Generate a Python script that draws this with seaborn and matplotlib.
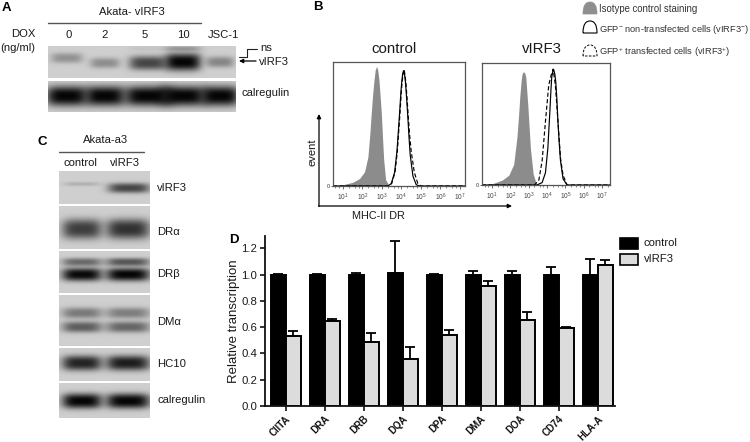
import numpy as np
import pandas as pd
import matplotlib
matplotlib.use("Agg")
import matplotlib.pyplot as plt
from matplotlib.patches import PathPatch, Rectangle
from matplotlib.path import Path
import seaborn as sns

# ---------- Panel D data ----------
genes = ["CIITA", "DRA", "DRB", "DQA", "DPA", "DMA", "DOA", "CD74", "HLA-A"]
control_mean = [1.0, 1.0, 1.0, 1.015, 1.0, 1.0, 1.0, 1.0, 1.0]
control_top = [1.003, 1.002, 1.015, 1.255, 1.005, 1.03, 1.03, 1.06, 1.12]
virf3_mean = [0.535, 0.645, 0.49, 0.355, 0.54, 0.915, 0.655, 0.59, 1.075]
virf3_top = [0.57, 0.665, 0.555, 0.45, 0.58, 0.955, 0.715, 0.605, 1.115]
y_ticks = [0.0, 0.2, 0.4, 0.6, 0.8, 1.0, 1.2]

# ---------- Panel B data (log10 intensity, event fraction) ----------
c_iso_x = [0.49, 1.0, 1.51, 1.85, 2.11, 2.28, 2.38, 2.45, 2.52, 2.59, 2.66, 2.73, 2.79, 2.85, 2.91, 2.97, 3.03, 3.09, 3.19, 3.36, 7.26]
c_iso_y = [0, .01, .03, .06, .115, .235, .42, .585, .73, .85, .94, .965, .93, .85, .72, .585, .39, .21, .05, .005, 0]
c_neg_x = [0.49, 3.31, 3.48, 3.65, 3.77, 3.85, 3.91, 3.97, 4.01, 4.06, 4.11, 4.16, 4.21, 4.27, 4.33, 4.39, 4.45, 4.59, 4.76, 4.93, 7.26]
c_neg_y = [0, 0, .02, .11, .28, .46, .6, .75, .83, .9, .93, .9, .83, .7, .55, .39, .25, .08, .01, 0, 0]
c_pos_x = [0.49, 3.33, 3.5, 3.67, 3.79, 3.87, 3.93, 3.99, 4.03, 4.08, 4.13, 4.18, 4.23, 4.29, 4.35, 4.42, 4.5, 4.66, 4.84, 5.0, 7.26]
c_pos_y = [0, 0, .02, .11, .28, .46, .6, .75, .83, .9, .94, .9, .83, .7, .56, .41, .28, .11, .02, 0, 0]

v_iso_x = [0.45, 1.0, 1.55, 1.91, 2.18, 2.36, 2.44, 2.51, 2.57, 2.62, 2.68, 2.73, 2.79, 2.84, 2.95, 3.09, 3.24, 3.42, 7.43]
v_iso_y = [0, .01, .04, .08, .17, .4, .56, .72, .83, .9, .925, .927, .915, .88, .65, .3, .09, .005, 0]
v_neg_x = [0.45, 3.45, 3.73, 3.91, 4.04, 4.15, 4.21, 4.25, 4.31, 4.36, 4.42, 4.47, 4.53, 4.58, 4.65, 4.73, 4.87, 5.09, 7.43]
v_neg_y = [0, 0, .02, .1, .3, .6, .78, .88, .93, .945, .91, .85, .71, .55, .37, .2, .05, 0, 0]
v_pos_x = [0.45, 3.31, 3.55, 3.73, 3.91, 4.09, 4.22, 4.33, 4.45, 4.58, 4.73, 4.87, 5.09, 7.43]
v_pos_y = [0, 0, .04, .2, .52, .82, .9, .95, .82, .55, .22, .08, 0, 0]
log_ticks = [1, 2, 3, 4, 5, 6, 7]

# ---------- Blot band intensities ----------
a_virf3 = [0.3, 0.32, 0.68, 1.0, 0.36]
a_ns = [0.0, 0.0, 0.05, 0.25, 0.0]
a_calreg = [1.0, 1.0, 1.0, 1.0, 1.0]
c_virf3 = [0.15, 0.68]
c_dra = [0.72, 0.78]
c_drb_up = [0.5, 0.6]
c_drb_lo = [0.98, 1.0]
c_dma_up = [0.42, 0.4]
c_dma_lo = [0.56, 0.52]
c_hc10 = [0.85, 0.88]
c_calreg = [1.0, 1.0]

W, H = 750, 442
sns.set_theme(style="ticks")
plt.rcParams["font.family"] = ["Liberation Sans", "DejaVu Sans"]
plt.rcParams["mathtext.default"] = "regular"

fig = plt.figure(figsize=(W / 100, H / 100), dpi=100, facecolor="white")
ov = fig.add_axes([0, 0, 1, 1], zorder=0)


def blot(x0, y0, x1, y1, bands, bg=0.79):
    xs = np.arange(x0, x1, 0.5) + 0.25
    ys = np.arange(y0, y1, 0.5) + 0.25
    X, Y = np.meshgrid(xs, ys)
    clear = np.ones_like(X)
    for cx, cy, hw, hh, val in bands:
        clear *= 1 - min(val, 1) * np.exp(-np.abs((X - cx) / hw) ** 4 - np.abs((Y - cy) / hh) ** 2.6)
    img = bg * clear + 0.02
    ov.imshow(img, extent=(x0, x1, y1, y0), cmap="gray", vmin=0, vmax=1,
              aspect="auto", interpolation="bilinear", zorder=1)


# Panel A blots
a_lanes = [67, 105, 148, 183, 220]
a_hw = [16, 15, 19, 18, 14]
a_cy = [58, 63, 63, 62, 62]
blot(48, 46, 236, 78, [(x, y, w, 3.6 + 5 * v, v) for x, y, w, v in zip(a_lanes, a_cy, a_hw, a_virf3)]
     + [(x, 48.5, w, 2.5, v) for x, w, v in zip(a_lanes, a_hw, a_ns)])
blot(48, 81, 236, 112, [(x, 96, w + 5, 10, v) for x, w, v in zip(a_lanes, a_hw, a_calreg)])

# Panel C blots
c_lanes = [82, 128]
c_hw = [20, 22]
def lanes(cy, vals, hh):
    return [(x, cy, w, hh, v) for x, w, v in zip(c_lanes, c_hw, vals)]
blot(59, 171, 150, 204, [(82, 184, 18, 2, c_virf3[0]), (129, 188, 21, 5, c_virf3[1])])
blot(59, 206, 150, 249, lanes(229, c_dra, 10))
blot(59, 251, 150, 293, lanes(262, c_drb_up, 4) + lanes(274.5, c_drb_lo, 6.5))
blot(59, 295, 150, 346, lanes(313, c_dma_up, 5.5) + lanes(327, c_dma_lo, 5.5))
blot(59, 348, 150, 381, lanes(363, c_hc10, 7.5))
blot(59, 383, 150, 418, lanes(401, c_calreg, 7.5))


def t(x, y, s, size=8.1, ha="left", va="center", **kw):
    ov.text(x, y, s, fontsize=size, ha=ha, va=va, color=kw.pop("color", "#1a1a1a"), zorder=5, **kw)


for x, y, s in [(2, 8, "A"), (313, 7, "B"), (37, 142, "C"), (229, 240, "D")]:
    t(x, y, s, size=9.5, fontweight="bold", color="black")

# Panel A text
t(132, 12, "Akata- vIRF3", ha="center")
ov.plot([48, 201], [22.5, 22.5], color="#555555", lw=1)
t(23, 34, "DOX", ha="center")
t(18, 48, "(ng/ml)", ha="center")
for x, s in zip([69, 105, 145, 183, 223], ["0", "2", "5", "10", "JSC-1"]):
    t(x, 35, s, ha="center")
t(260, 48, "ns")
t(259, 62, "vIRF3")
t(242, 93, "calregulin")
ov.plot([239, 247, 247, 257], [57, 57, 49, 49], color="#222222", lw=0.8)
ov.annotate("", xy=(239, 61), xytext=(256, 61),
            arrowprops=dict(arrowstyle="-|>", color="black", lw=0.9, mutation_scale=6, shrinkA=0, shrinkB=0))

# Panel C text
t(106, 140, "Akata-a3", ha="center")
ov.plot([59, 144], [152, 152], color="#555555", lw=1)
t(80, 163, "control", ha="center")
t(125, 163, "vIRF3", ha="center")
for y, s in zip([188, 232, 274, 322, 364, 400],
                ["vIRF3", "DR\u03b1", "DR\u03b2", "DM\u03b1", "HC10", "calregulin"]):
    t(157, y, s)

# Panel B text and legend
t(394, 49, "control", size=10.8, ha="center")
t(542, 49, "vIRF3", size=10.8, ha="center")
t(312, 152, "event", size=8, ha="center", rotation=90)
t(378, 216, "MHC-II DR", size=7.8, ha="center")
ov.annotate("", xy=(319, 114), xytext=(319, 206.5),
            arrowprops=dict(arrowstyle="-|>", color="black", lw=0.9, mutation_scale=6, shrinkA=0, shrinkB=0))
ov.annotate("", xy=(512, 206), xytext=(318.5, 206),
            arrowprops=dict(arrowstyle="-|>", color="black", lw=0.9, mutation_scale=6, shrinkA=0, shrinkB=0))


def dome(x0, x1, ytop, ybot, **kw):
    mid = (x0 + x1) / 2
    verts = [(x0, ybot), (x0, ytop + 3), (mid - 4, ytop), (mid, ytop), (mid + 4, ytop), (x1, ytop + 3), (x1, ybot), (x0, ybot)]
    codes = [Path.MOVETO, Path.CURVE4, Path.CURVE4, Path.CURVE4, Path.CURVE4, Path.CURVE4, Path.CURVE4, Path.LINETO]
    ov.add_patch(PathPatch(Path(verts, codes), zorder=5, **kw))


dome(583, 597, 2, 14, facecolor="#8e8e8e", edgecolor="#8e8e8e", lw=0.5)
dome(583, 597, 21, 33, facecolor="white", edgecolor="black", lw=0.8)
dome(583, 597, 45, 56, facecolor="white", edgecolor="black", lw=0.7, ls=(0, (2.5, 1.5)))
t(599, 9, "Isotype control staining", size=6.9, color="#333333")
t(599, 29, "GFP$^{-}$ non-transfected cells (vIRF3$^{-}$)", size=6.65, color="#333333")
t(599, 52, "GFP$^{+}$ transfected cells (vIRF3$^{+}$)", size=6.65, color="#333333")

# Panel D legend
ov.add_patch(Rectangle((620, 238), 18, 10.5, fc="black", ec="black", lw=1.2, zorder=5))
ov.add_patch(Rectangle((620, 254), 18, 10.5, fc="#dcdcdc", ec="black", lw=1.2, zorder=5))
t(644, 243, "control", size=8.1)
t(644, 259, "vIRF3", size=8.1)

ov.set_xlim(0, W)
ov.set_ylim(H, 0)
ov.axis("off")


def px_axes(x0, y0, x1, y1):
    return fig.add_axes([x0 / W, 1 - y1 / H, (x1 - x0) / W, (y1 - y0) / H], zorder=2)


def flow(pos, xlim, ylim, iso, neg, posi):
    ax = px_axes(*pos)
    ax.fill_between(iso[0], iso[1], color="#8c8c8c", lw=0)
    sns.lineplot(x=neg[0], y=neg[1], ax=ax, color="black", lw=0.85, sort=False, estimator=None, errorbar=None)
    sns.lineplot(x=posi[0], y=posi[1], ax=ax, color="black", lw=0.85, ls=(0, (3.5, 2)), sort=False, estimator=None, errorbar=None)
    ax.set_xlim(*xlim)
    ax.set_ylim(*ylim)
    ax.set_xticks(log_ticks)
    ax.set_xticks([d + m for d in range(0, 8) for m in (0.3, 0.6, 0.8) if xlim[0] < d + m < xlim[1]], minor=True)
    ax.set_xticklabels([f"$10^{{{d}}}$" for d in log_ticks], fontsize=4.8, color="#444444")
    ax.set_yticks([0])
    ax.set_yticklabels(["0"], fontsize=4.2, color="#444444")
    ax.tick_params(axis="x", which="major", length=2.5, width=0.5, pad=1.5, color="#333333")
    ax.tick_params(axis="x", which="minor", length=1.3, width=0.4, color="#333333")
    ax.tick_params(axis="y", length=1.5, width=0.5, pad=1)
    for s in ax.spines.values():
        s.set_linewidth(0.9)
        s.set_color("#555555")
    ax.set_xlabel("")
    ax.set_ylabel("")


flow((333, 62, 465, 186), (0.49, 7.26), (0, 1), (c_iso_x, c_iso_y), (c_neg_x, c_neg_y), (c_pos_x, c_pos_y))
flow((482, 63, 610, 185), (0.45, 7.43), (0, 1), (v_iso_x, v_iso_y), (v_neg_x, v_neg_y), (v_pos_x, v_pos_y))

# Panel D bars
df = pd.DataFrame({
    "gene": genes * 2,
    "value": control_mean + virf3_mean,
    "group": ["control"] * len(genes) + ["vIRF3"] * len(genes),
})
axd = px_axes(265, 236, 615, 406)
sns.barplot(data=df, x="gene", y="value", hue="group", order=genes, hue_order=["control", "vIRF3"],
            palette={"control": "black", "vIRF3": "#dcdcdc"}, width=0.76, gap=0, saturation=1,
            edgecolor="black", linewidth=1.4, errorbar=None, legend=False, ax=axd, zorder=2)
bars = [p for p in axd.patches if isinstance(p, Rectangle)]
n = len(genes)
for group, means, tops in [(bars[:n], control_mean, control_top), (bars[n:], virf3_mean, virf3_top)]:
    xs = [b.get_x() + b.get_width() / 2 for b in group]
    upper = np.array(tops) - np.array(means)
    axd.errorbar(xs, means, yerr=[np.zeros(n), upper], fmt="none", ecolor="black",
                 elinewidth=1.3, capsize=3.6, capthick=1.3, zorder=1)
axd.set_xlim(-0.53, 8.44)
axd.set_ylim(0, 1.294)
axd.set_yticks(y_ticks)
axd.set_yticklabels([f"{v:.1f}" for v in y_ticks], fontsize=8.2, color="#1a1a1a")
axd.set_xticks(range(n))
axd.set_xticklabels(genes, rotation=45, ha="right", rotation_mode="anchor", fontsize=7.0,
                    color="#111111", fontweight="bold")
axd.set_xlabel("")
axd.set_ylabel("Relative transcription", fontsize=9.5, color="#1a1a1a", labelpad=1)
axd.tick_params(axis="both", length=3.5, width=1.2, pad=2, color="#111111")
sns.despine(ax=axd)
for s in ("left", "bottom"):
    axd.spines[s].set_linewidth(1.3)
    axd.spines[s].set_color("#111111")
axd.patch.set_alpha(0)

fig.savefig("out.png", dpi=100, facecolor="white")
